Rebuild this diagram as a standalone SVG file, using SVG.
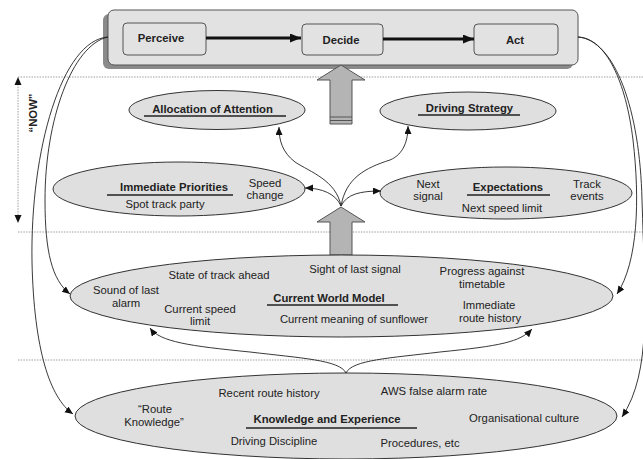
<svg xmlns="http://www.w3.org/2000/svg" width="643" height="459" viewBox="0 0 643 459">
<defs>
<style>
.t{font-family:"Liberation Sans",Arial,sans-serif;font-size:11.3px;fill:#222;text-anchor:middle}
.b{font-weight:bold}
.el{fill:#dfdfdf;stroke:#333;stroke-width:1}
.ul{stroke:#222;stroke-width:1.6}
.dot{stroke:#888;stroke-width:0.8;stroke-dasharray:1.5 1.2;fill:none}
.con{fill:none;stroke:#222;stroke-width:0.9}
.box{fill:#e2e2e2;stroke:#555;stroke-width:1}
.big{fill:#b4b4b4;stroke:#555;stroke-width:1}
</style>
<marker id="ah" markerUnits="userSpaceOnUse" markerWidth="9" markerHeight="8" refX="8" refY="3.5" orient="auto">
<path d="M0,0 L8,3.5 L0,7 z" fill="#111"/>
</marker>
<marker id="ahb" markerUnits="userSpaceOnUse" markerWidth="12" markerHeight="10" refX="11" refY="4.5" orient="auto">
<path d="M0,0 L11,4.5 L0,9 z" fill="#111"/>
</marker>
</defs>

<g id="guides">
<line class="dot" x1="18" y1="77" x2="643" y2="77"/>
<line class="dot" x1="18" y1="232" x2="643" y2="232"/>
<line class="dot" x1="18" y1="360" x2="643" y2="360"/>
<line class="dot" x1="18" y1="84" x2="18" y2="216"/>
<path d="M18,77 L14.5,85 L21.5,85 z" fill="#111"/>
<path d="M18,223 L14.5,215 L21.5,215 z" fill="#111"/>
<text class="t b" transform="translate(37,113) rotate(-90)">“NOW”</text>
</g>

<g id="pda">
<rect x="103" y="14" width="470" height="55" rx="6" fill="#8a8a8a"/>
<rect x="108" y="10" width="470" height="55" rx="6" class="box"/>
</g>
<g id="perceive">
<rect x="123" y="23" width="83" height="32" rx="4" class="box"/>
<text class="t b" x="161" y="42">Perceive</text>
</g>
<g id="decide">
<rect x="302" y="24" width="81" height="31" rx="4" class="box"/>
<text class="t b" x="341" y="44">Decide</text>
</g>
<g id="act">
<rect x="474" y="24" width="84" height="31" rx="4" class="box"/>
<text class="t b" x="515" y="44">Act</text>
</g>

<g id="arrow-upper">
<path class="big" d="M330,124 L330,80 L317,80 L341,65 L365,80 L352,80 L352,124 z"/>
<line x1="330" y1="117" x2="352" y2="117" stroke="#555" stroke-width="1"/>
<line x1="330" y1="120.5" x2="352" y2="120.5" stroke="#555" stroke-width="1"/>
</g>
<g id="arrow-lower">
<path class="big" d="M330,262 L330,222 L317,222 L341,207 L365,222 L352,222 L352,262 z"/>
<line x1="330" y1="255" x2="352" y2="255" stroke="#555" stroke-width="1"/>
<line x1="330" y1="258.5" x2="352" y2="258.5" stroke="#555" stroke-width="1"/>
</g>

<g id="allocation">
<ellipse class="el" cx="217" cy="110" rx="88" ry="19.5"/>
<text class="t b" x="212.5" y="113">Allocation of Attention</text>
<line class="ul" x1="144" y1="116" x2="286" y2="116"/>
</g>
<g id="strategy">
<ellipse class="el" cx="468" cy="111" rx="88" ry="19"/>
<text class="t b" x="469.5" y="112">Driving Strategy</text>
<line class="ul" x1="418" y1="115" x2="520" y2="115"/>
</g>
<g id="priorities">
<ellipse class="el" cx="179" cy="189" rx="126" ry="27"/>
<text class="t b" x="174" y="191">Immediate Priorities</text>
<line class="ul" x1="107" y1="195" x2="233" y2="195"/>
<text class="t" x="165" y="208">Spot track party</text>
<text class="t" x="265" y="187">Speed</text>
<text class="t" x="265" y="199">change</text>
</g>
<g id="expectations">
<ellipse class="el" cx="506" cy="193" rx="126" ry="26"/>
<text class="t" x="428" y="188">Next</text>
<text class="t" x="428" y="200">signal</text>
<text class="t b" x="508" y="191">Expectations</text>
<line class="ul" x1="467" y1="195" x2="550" y2="195"/>
<text class="t" x="502" y="212">Next speed limit</text>
<text class="t" x="587" y="188">Track</text>
<text class="t" x="587" y="200">events</text>
</g>
<g id="world-model">
<ellipse class="el" cx="341.5" cy="296" rx="271.5" ry="41"/>
<text class="t" x="126" y="294">Sound of last</text>
<text class="t" x="126" y="307">alarm</text>
<text class="t" x="219" y="279">State of track ahead</text>
<text class="t" x="200" y="313">Current speed</text>
<text class="t" x="200" y="325">limit</text>
<text class="t" x="355" y="273">Sight of last signal</text>
<text class="t b" x="329" y="302">Current World Model</text>
<line class="ul" x1="267" y1="305" x2="398" y2="305"/>
<text class="t" x="354" y="323">Current meaning of sunflower</text>
<text class="t" x="482" y="275">Progress against</text>
<text class="t" x="482" y="288">timetable</text>
<text class="t" x="489" y="309">Immediate</text>
<text class="t" x="490" y="322">route history</text>
</g>
<g id="knowledge">
<ellipse class="el" cx="346" cy="416" rx="271" ry="43"/>
<text class="t" x="155" y="413">“Route</text>
<text class="t" x="154" y="426">Knowledge”</text>
<text class="t" x="269" y="397">Recent route history</text>
<text class="t b" x="327" y="423">Knowledge and Experience</text>
<line class="ul" x1="246" y1="428" x2="417" y2="428"/>
<text class="t" x="274" y="445">Driving Discipline</text>
<text class="t" x="434" y="395">AWS false alarm rate</text>
<text class="t" x="524" y="422">Organisational culture</text>
<text class="t" x="420" y="447">Procedures, etc</text>
</g>

<g id="connectors">
<line x1="206" y1="38" x2="301" y2="38" stroke="#111" stroke-width="3" marker-end="url(#ahb)"/>
<line x1="383" y1="39" x2="474" y2="39" stroke="#111" stroke-width="3" marker-end="url(#ahb)"/>
<path class="con" d="M108,37 C62,40 30,150 32,262 C34,350 50,398 73,414" marker-end="url(#ah)"/>
<path class="con" d="M108,37 C72,45 45,120 45,200 C45,252 52,280 70,294" marker-end="url(#ah)"/>
<path class="con" d="M578,37 C606,38 626,82 633,140 C640,200 638,262 617,294" marker-end="url(#ah)"/>
<path class="con" d="M578,37 C615,40 640,110 642,200 C645,300 652,372 622,417" marker-end="url(#ah)"/>
<path class="con" d="M341,206 C336,180 310,172 295,162 C282,152 279,140 279,127" marker-end="url(#ah)"/>
<path class="con" d="M341,206 C336,194 322,188 305,188" marker-end="url(#ah)"/>
<path class="con" d="M341,206 C347,194 360,191 381,191" marker-end="url(#ah)"/>
<path class="con" d="M341,206 C346,178 365,168 390,160 C404,154 408,140 408,126" marker-end="url(#ah)"/>
<path class="con" d="M346,373 C340,360 300,358 250,352 C190,346 160,342 150,328" marker-end="url(#ah)"/>
<path class="con" d="M346,373 C352,360 390,358 440,352 C500,346 520,342 532,329" marker-end="url(#ah)"/>
</g>
</svg>
